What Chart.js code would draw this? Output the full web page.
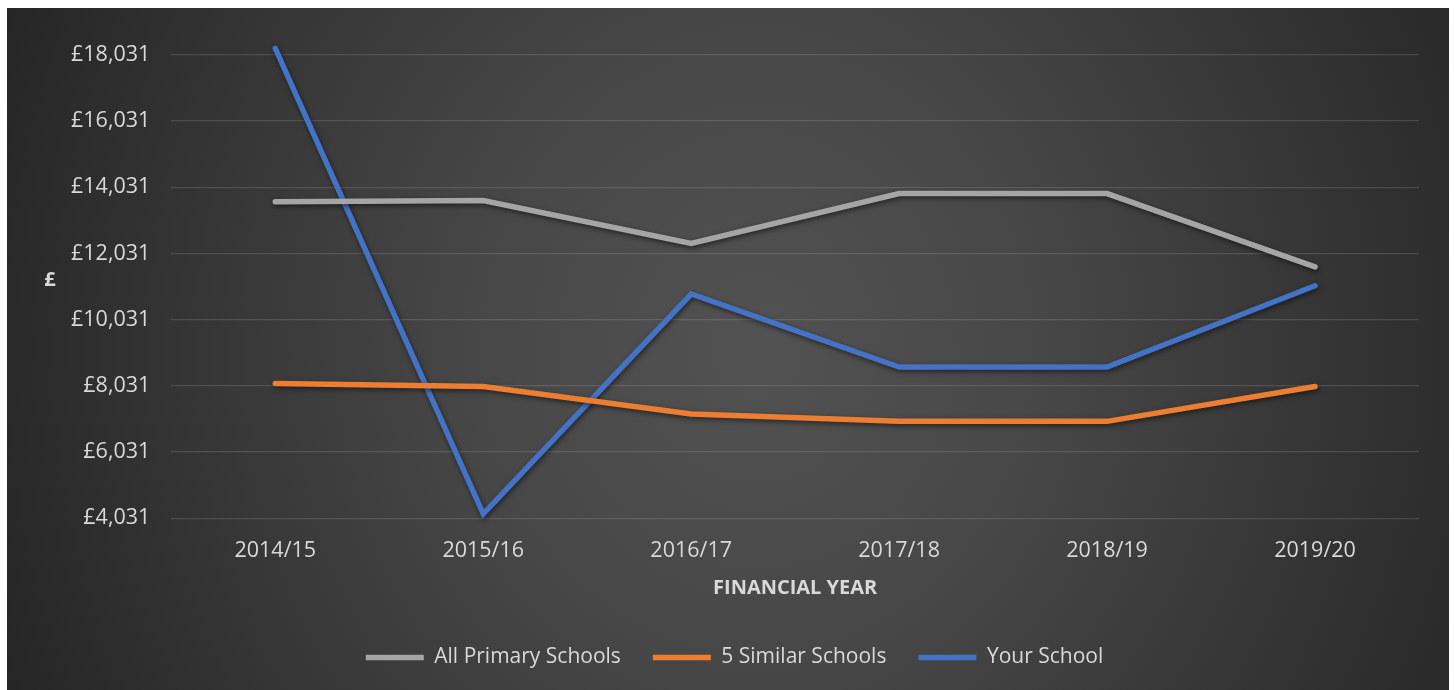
<!DOCTYPE html>
<html>
<head>
<meta charset="utf-8">
<script src="https://cdn.jsdelivr.net/npm/chart.js@4"></script>
<style>
  html, body { margin: 0; padding: 0; background: #ffffff; }
  #wrap {
    position: absolute; left: 7px; top: 8px; width: 1442px; height: 682px;
    background: radial-gradient(ellipse 56% 130% at 52% 50%, #525252 0%, #474747 35%, #262626 100%);
  }
  canvas { display: block; }
</style>
</head>
<body>
<div id="wrap"><canvas id="c" width="1442" height="682"></canvas></div>
<script>
const categories = ['2014/15', '2015/16', '2016/17', '2017/18', '2018/19', '2019/20'];
const allPrimary = [13591, 13630, 12335, 13841, 13841, 11627];
const similar5 = [8103, 8013, 7179, 6958, 6958, 8013];
const yourSchool = [18230, 4160, 10805, 8597, 8597, 11055];
const yTicks = [4031, 6031, 8031, 10031, 12031, 14031, 16031, 18031];
const seriesNames = ['All Primary Schools', '5 Similar Schools', 'Your School'];

const FONT = '"Open Sans", "Noto Sans", sans-serif';

const shadowPlugin = {
  id: 'lineShadow',
  beforeDatasetDraw(chart) {
    const ctx = chart.ctx;
    ctx.save();
    ctx.shadowColor = 'rgba(0,0,0,0.55)';
    ctx.shadowBlur = 5;
    ctx.shadowOffsetX = 1;
    ctx.shadowOffsetY = 2;
  },
  afterDatasetDraw(chart) {
    chart.ctx.restore();
  }
};

const yTitlePlugin = {
  id: 'yTitle',
  afterDraw(chart) {
    const ctx = chart.ctx;
    ctx.save();
    ctx.font = 'bold 20px ' + FONT;
    ctx.fillStyle = '#d9d9d9';
    ctx.textAlign = 'center';
    ctx.textBaseline = 'middle';
    ctx.fillText('£', 43, 272);
    ctx.restore();
  }
};

new Chart(document.getElementById('c'), {
  type: 'line',
  data: {
    labels: categories,
    datasets: [
      { label: seriesNames[0], data: allPrimary, borderColor: '#a5a5a5', backgroundColor: '#a5a5a5' },
      { label: seriesNames[1], data: similar5, borderColor: '#ed7d31', backgroundColor: '#ed7d31' },
      { label: seriesNames[2], data: yourSchool, borderColor: '#4472c4', backgroundColor: '#4472c4' }
    ].map(d => Object.assign(d, {
      borderWidth: 5.5,
      borderCapStyle: 'round',
      borderJoinStyle: 'miter',
      pointRadius: 0,
      pointHoverRadius: 0,
      tension: 0,
      fill: false,
      clip: false
    }))
  },
  options: {
    responsive: false,
    animation: false,
    events: [],
    layout: { padding: { left: 43, right: 30, top: 38, bottom: 12 } },
    plugins: {
      tooltip: { enabled: false },
      legend: {
        position: 'bottom',
        align: 'center',
        labels: {
          usePointStyle: true,
          pointStyleWidth: 58,
          pointStyle: 'line',
          padding: 32,
          color: '#d9d9d9',
          font: { family: FONT, size: 21 }
        }
      }
    },
    scales: {
      x: {
        offset: true,
        grid: { display: false, drawTicks: false },
        border: { display: false },
        ticks: { color: '#d9d9d9', font: { family: FONT, size: 21.5 }, padding: 20 },
        title: {
          display: true,
          text: 'FINANCIAL YEAR',
          color: '#d9d9d9',
          font: { family: FONT, size: 20, weight: 'bold' },
          padding: { top: -8, bottom: 15 }
        }
      },
      y: {
        min: 4031,
        max: 18300,
        afterBuildTicks(scale) { scale.ticks = yTicks.map(v => ({ value: v })); },
        grid: { color: 'rgba(217,217,217,0.16)', lineWidth: 1.3, drawTicks: false },
        border: { display: false },
        ticks: {
          color: '#d9d9d9',
          font: { family: FONT, size: 21.5 },
          padding: 21,
          callback: v => '£' + Number(v).toLocaleString('en-GB')
        }
      }
    }
  },
  plugins: [shadowPlugin, yTitlePlugin]
});
</script>
</body>
</html>
